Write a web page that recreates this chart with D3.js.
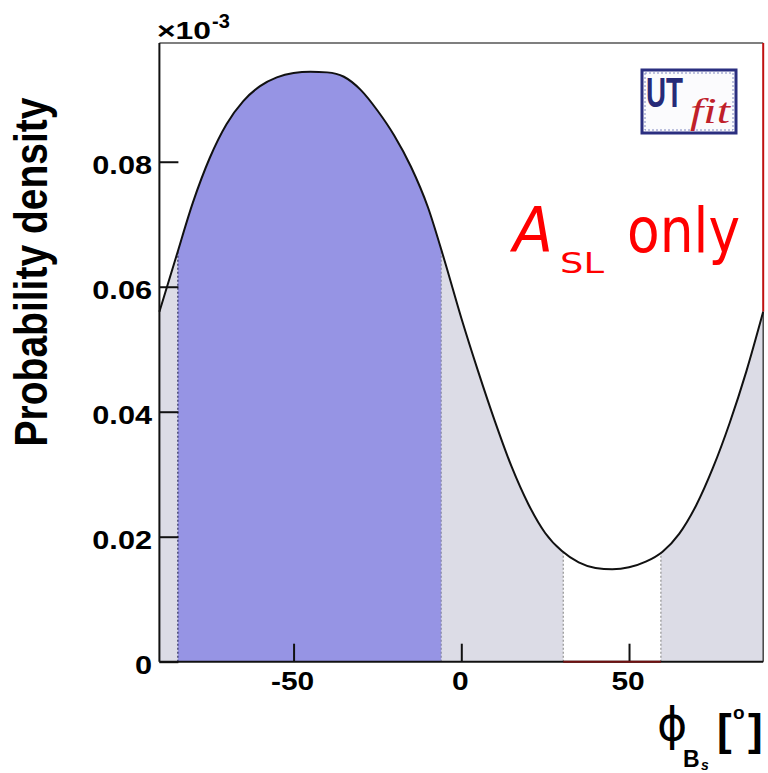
<!DOCTYPE html>
<html>
<head>
<meta charset="utf-8">
<script src="https://cdn.jsdelivr.net/npm/d3@7"></script>
<style>
  body { margin: 0; background: #fff; }
  svg { display: block; }
</style>
</head>
<body>
<svg width="768" height="773"></svg>
<script>
// phi_Bs in degrees and the probability density
const phiDeg = [-90,-85,-80,-75,-70,-65,-60,-55,-50,-45,-40,-35,-30,-25,-20,-15,-10,-5,
                0,5,10,15,20,25,30,35,40,45,50,55,60,65,70,75,80,85,90];
const density = [0.0560,0.0648,0.0735,0.0806,0.0860,0.0897,0.0921,0.0935,0.0942,0.0944,0.0943,0.0936,
                 0.0915,0.0882,0.0842,0.0792,0.0728,0.0642,
                 0.0550,0.0465,0.0385,0.0312,0.0252,0.0206,0.0177,0.0159,0.0150,0.0148,0.0151,0.0160,
                 0.0176,0.0205,0.0250,0.0310,0.0382,0.0465,0.0560];
// probability regions
const band68 = [-84.5, -6];
const band95 = [[-90, 30.4], [59.5, 90]];
// ticks
const xMajor = [-50, 0, 50];
const xMinor = [-80,-70,-60,-40,-30,-20,-10,10,20,30,40,60,70,80];
const yMajor = [0, 0.02, 0.04, 0.06, 0.08];
const yMinor = [0.005,0.01,0.015,0.025,0.03,0.035,0.045,0.05,0.055,0.065,0.07,0.075,0.085,0.09,0.095];

const pts = phiDeg.map((p, i) => [p, density[i]]);

const svg = d3.select("svg");
const x = d3.scaleLinear().domain([-90, 90]).range([159.4, 763.2]);
const y = d3.scaleLinear().domain([0, 0.099]).range([661.7, 43]);

const area = d3.area()
    .x(d => x(d[0]))
    .y0(y(0))
    .y1(d => y(d[1]))
    .curve(d3.curveMonotoneX);
const line = d3.line()
    .x(d => x(d[0]))
    .y(d => y(d[1]))
    .curve(d3.curveMonotoneX);

svg.append("clipPath").attr("id", "under")
    .append("path").attr("d", area(pts));

const fills = svg.append("g").attr("clip-path", "url(#under)");
band95.forEach(b => {
    fills.append("rect")
        .attr("x", x(b[0])).attr("width", x(b[1]) - x(b[0]))
        .attr("y", y(0.099)).attr("height", y(0) - y(0.099))
        .attr("fill", "#dcdce6");
});
fills.append("rect")
    .attr("x", x(band68[0])).attr("width", x(band68[1]) - x(band68[0]))
    .attr("y", y(0.099)).attr("height", y(0) - y(0.099))
    .attr("fill", "#9694e4");

// dotted boundaries
const edges = [
    { v: band68[0], c: "#3a3a6a" },
    { v: band68[1], c: "#8a8aa8" },
    { v: band95[0][1], c: "#9a9a9a" },
    { v: band95[1][0], c: "#9a9a9a" }
];
edges.forEach(e => {
    fills.append("line")
        .attr("x1", x(e.v)).attr("x2", x(e.v))
        .attr("y1", y(0)).attr("y2", y(0.099))
        .attr("stroke", e.c)
        .attr("stroke-width", 1.3)
        .attr("stroke-dasharray", "2,2");
});

// frame
svg.append("line")
    .attr("x1", x(-90)).attr("x2", x(90))
    .attr("y1", y(0.099)).attr("y2", y(0.099))
    .attr("stroke", "#555").attr("stroke-width", 1.5);
svg.append("line")
    .attr("x1", x(90)).attr("x2", x(90))
    .attr("y1", y(0.099)).attr("y2", y(density[density.length - 1]))
    .attr("stroke", "#c01010").attr("stroke-width", 2);
svg.append("line")
    .attr("x1", x(90)).attr("x2", x(90))
    .attr("y1", y(density[density.length - 1])).attr("y2", y(0))
    .attr("stroke", "#444").attr("stroke-width", 1.5);

// curve
svg.append("path")
    .attr("d", line(pts))
    .attr("fill", "none")
    .attr("stroke", "#111")
    .attr("stroke-width", 2);

// x axis
const gx = svg.append("g").attr("transform", `translate(0,${y(0)})`);
gx.call(d3.axisBottom(x).tickValues(xMinor).tickSize(-9).tickFormat(""))
  .call(d3.axisBottom(x).tickValues(xMajor).tickSize(-18).tickFormat(""));
gx.selectAll(".domain").remove();
gx.selectAll(".tick line").attr("stroke", "#111").attr("stroke-width", 2);
svg.append("line")
    .attr("x1", x(-90)).attr("x2", x(90))
    .attr("y1", y(0)).attr("y2", y(0))
    .attr("stroke", "#111").attr("stroke-width", 2);
svg.append("line")
    .attr("x1", x(band95[0][1])).attr("x2", x(band95[1][0]))
    .attr("y1", y(0)).attr("y2", y(0))
    .attr("stroke", "#701010").attr("stroke-width", 2);

// y axis
const gy = svg.append("g").attr("transform", `translate(${x(-90)},0)`);
gy.call(d3.axisLeft(y).tickValues(yMinor).tickSize(-10).tickFormat(""))
  .call(d3.axisLeft(y).tickValues(yMajor).tickSize(-19).tickFormat(""));
gy.selectAll(".domain").remove();
gy.selectAll(".tick line").attr("stroke", "#111").attr("stroke-width", 2);
svg.append("line")
    .attr("x1", x(-90)).attr("x2", x(-90))
    .attr("y1", y(0)).attr("y2", y(0.099))
    .attr("stroke", "#111").attr("stroke-width", 2);

const font = "'Liberation Sans', Arial, sans-serif";

// tick labels
yMajor.forEach(v => {
    svg.append("text")
        .attr("transform", `translate(152,${y(v) + 12}) scale(1.18,1)`)
        .attr("text-anchor", "end")
        .style("font-family", font).style("font-weight", "bold").style("font-size", "26px")
        .text(v === 0 ? "0" : v.toFixed(2));
});
xMajor.forEach(v => {
    svg.append("text")
        .attr("transform", `translate(${x(v) - 1},690) scale(1.15,1)`)
        .attr("text-anchor", "middle")
        .style("font-family", font).style("font-weight", "bold").style("font-size", "26px")
        .text(String(v));
});

// exponent
svg.append("text")
    .attr("x", 157).attr("y", 39)
    .attr("textLength", 54).attr("lengthAdjust", "spacingAndGlyphs")
    .style("font-family", font).style("font-weight", "bold").style("font-size", "24px")
    .text("×10");
svg.append("text")
    .attr("x", 212).attr("y", 28)
    .style("font-family", font).style("font-weight", "bold").style("font-size", "20px")
    .text("-3");

// y title
svg.append("text")
    .attr("transform", "translate(47,272) scale(1.2,1) rotate(-90)")
    .attr("text-anchor", "middle")
    .style("font-family", font).style("font-weight", "bold").style("font-size", "39px")
    .text("Probability density");

// x title
svg.append("text")
    .attr("x", 657).attr("y", 740)
    .style("font-family", "'DejaVu Sans', sans-serif").style("font-size", "46px")
    .text("ϕ");
svg.append("text")
    .attr("x", 683).attr("y", 767)
    .style("font-family", font).style("font-weight", "bold").style("font-size", "23px")
    .text("B");
svg.append("text")
    .attr("x", 701).attr("y", 770)
    .style("font-family", font).style("font-weight", "bold").style("font-style", "italic").style("font-size", "14px")
    .text("s");
svg.append("text")
    .attr("x", 717).attr("y", 745)
    .style("font-family", font).style("font-weight", "bold").style("font-size", "44px")
    .text("[");
svg.append("text")
    .attr("x", 733).attr("y", 719)
    .style("font-family", font).style("font-weight", "bold").style("font-size", "19px")
    .text("o");
svg.append("text")
    .attr("x", 748).attr("y", 745)
    .style("font-family", font).style("font-weight", "bold").style("font-size", "44px")
    .text("]");

// A_SL only
const red = "#ff0000";
svg.append("text")
    .attr("x", 513).attr("y", 252)
    .attr("textLength", 40).attr("lengthAdjust", "spacingAndGlyphs")
    .style("font-family", "'DejaVu Sans', sans-serif").style("font-style", "italic").style("font-size", "62px")
    .attr("fill", red).text("A");
svg.append("text")
    .attr("x", 560).attr("y", 273)
    .attr("textLength", 44).attr("lengthAdjust", "spacingAndGlyphs")
    .style("font-family", "'DejaVu Sans', sans-serif").style("font-size", "29px")
    .attr("fill", red).text("SL");
svg.append("text")
    .attr("x", 627).attr("y", 252)
    .attr("textLength", 113).attr("lengthAdjust", "spacingAndGlyphs")
    .style("font-family", "'DejaVu Sans', sans-serif").style("font-size", "62px")
    .attr("fill", red).text("only");

// UTfit logo
const logo = svg.append("g");
logo.append("rect")
    .attr("x", 642).attr("y", 70).attr("width", 94).attr("height", 63)
    .attr("fill", "#fbfbfd").attr("stroke", "#2b2f80").attr("stroke-width", 3);
logo.append("rect")
    .attr("x", 645).attr("y", 73).attr("width", 88).attr("height", 57)
    .attr("fill", "none").attr("stroke", "#8088c0").attr("stroke-width", 1)
    .attr("stroke-dasharray", "2,2");
logo.append("text")
    .attr("x", 646).attr("y", 107)
    .attr("textLength", 37).attr("lengthAdjust", "spacingAndGlyphs")
    .style("font-family", font).style("font-weight", "bold").style("font-size", "42px")
    .attr("fill", "#262a78").text("UT");
logo.append("text")
    .attr("x", 690).attr("y", 123)
    .attr("textLength", 40).attr("lengthAdjust", "spacingAndGlyphs")
    .style("font-family", "'Liberation Serif', serif").style("font-style", "italic").style("font-size", "36px")
    .attr("fill", "#c0202a").text("fit");
</script>
</body>
</html>
